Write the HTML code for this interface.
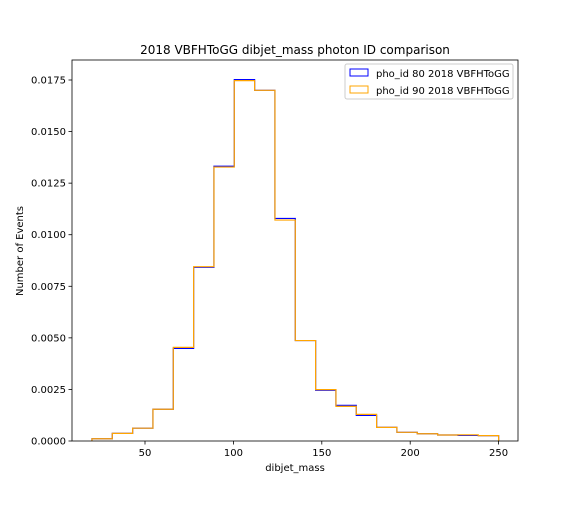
<!DOCTYPE html>
<html><head><meta charset="utf-8"><style>
body{margin:0;background:#fff;font-family:"Liberation Sans","DejaVu Sans",sans-serif;}
svg text{font-family:"DejaVu Sans","Liberation Sans",sans-serif;}
</style></head><body>
<svg id="chart" width="576" height="504" xmlns="http://www.w3.org/2000/svg">
<rect width="576" height="504" fill="#fff"/>
<text x="295" y="54" font-size="12" text-anchor="middle">2018 VBFHToGG dibjet_mass photon ID comparison</text>
<text x="295" y="471" font-size="10" text-anchor="middle">dibjet_mass</text>
<text transform="translate(23,251) rotate(-90)" font-size="10" text-anchor="middle">Number of Events</text>
<g id="marks"></g>
<g id="axes"></g>
<rect x="72" y="60" width="446" height="381" fill="none" stroke="#000" stroke-width="0.8"/>
<g>
<rect x="345" y="64" width="168" height="35" fill="#fff" stroke="#ccc" rx="2"/>
<g>
<rect x="350" y="69" width="18" height="7" fill="none" stroke="blue"/>
<text x="376" y="77" font-size="10">pho_id 80 2018 VBFHToGG</text></g>
<g>
<rect x="350" y="86" width="18" height="7" fill="none" stroke="orange"/>
<text x="376" y="94" font-size="10">pho_id 90 2018 VBFHToGG</text></g>
</g>
</svg>
<script>
const binEdgesStart = 20, binWidth = 11.5;
const pho80 = [0.00011,0.00037,0.00062,0.00154,0.00449,0.00842,0.01332,0.01752,0.01700,0.01079,0.00487,0.00246,0.00173,0.00124,0.00066,0.00042,0.00035,0.00029,0.00027,0.00026];
const pho90 = [0.00011,0.00037,0.00062,0.00154,0.00454,0.00845,0.01328,0.01747,0.01700,0.01071,0.00487,0.00249,0.00168,0.00129,0.00066,0.00042,0.00035,0.00029,0.00030,0.00026];
const xTicks = [50,100,150,200,250];
const yTicks = [0,0.0025,0.005,0.0075,0.01,0.0125,0.015,0.0175];
const yTickLabels = ["0.0000","0.0025","0.0050","0.0075","0.0100","0.0125","0.0150","0.0175"];
const NS="http://www.w3.org/2000/svg";
const X = v => 56.6 + v*1.768;
const Y = v => 441 - v*(361/0.0175);
function stepPath(vals){
  let d = "M"+X(binEdgesStart)+","+Y(0);
  vals.forEach((v,i)=>{
    const x0 = X(binEdgesStart+i*binWidth), x1 = X(binEdgesStart+(i+1)*binWidth);
    d += " L"+x0+","+Y(v)+" L"+x1+","+Y(v);
  });
  d += " L"+X(binEdgesStart+vals.length*binWidth)+","+Y(0);
  return d;
}
const marks=document.getElementById('marks');
const p1=document.createElementNS(NS,'path');
p1.setAttribute('d',stepPath(pho80));p1.setAttribute('fill','none');p1.setAttribute('stroke','blue');p1.setAttribute('stroke-width','1.2');


marks.appendChild(p1);
const p2=document.createElementNS(NS,'path');
p2.setAttribute('d',stepPath(pho90));p2.setAttribute('fill','none');p2.setAttribute('stroke','orange');p2.setAttribute('stroke-width','1.2');


marks.appendChild(p2);
const axes=document.getElementById('axes');
xTicks.forEach(t=>{
  const g=document.createElementNS(NS,'g');
  
  
  g.innerHTML=`<line x1="${X(t)}" x2="${X(t)}" y1="441" y2="444.5" stroke="#000" stroke-width="0.8"/><text x="${X(t)}" y="456" font-size="10" text-anchor="middle">${t}</text>`;
  axes.appendChild(g);
});
yTicks.forEach((t,i)=>{
  const g=document.createElementNS(NS,'g');
  
  
  g.innerHTML=`<line x1="68.5" x2="72" y1="${Y(t)}" y2="${Y(t)}" stroke="#000" stroke-width="0.8"/><text x="66" y="${Y(t)+3.5}" font-size="10" text-anchor="end">${yTickLabels[i]}</text>`;
  axes.appendChild(g);
});
</script>
</body></html>
